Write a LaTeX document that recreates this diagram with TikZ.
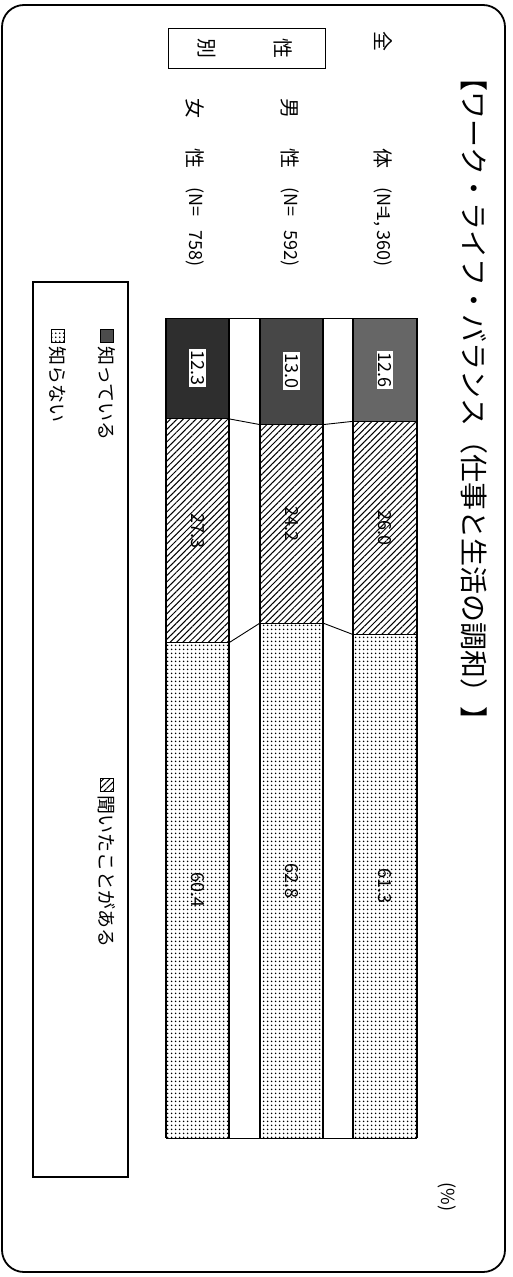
\documentclass[tikz,border=0pt]{standalone}
\usepackage{fontspec}
\newfontfamily\jp{Noto Sans CJK JP}
\usetikzlibrary{patterns.meta}
\tikzset{
  lbl/.style={font=\jp\fontsize{20}{20}\selectfont, rotate=-90, inner sep=0pt},
  nlbl/.style={font=\jp\fontsize{18}{18}\selectfont, rotate=-90, inner sep=0pt},
  leglbl/.style={font=\jp\fontsize{19}{19}\selectfont, rotate=-90, inner sep=0pt, anchor=west},
  val/.style={font=\jp\fontsize{18}{18}\selectfont, rotate=-90, inner sep=1.5pt},
  barside/.style={line width=2pt},
  segline/.style={line width=0.9pt},
  conn/.style={line width=0.9pt},
  hatchseg/.style={pattern={Lines[angle=45,distance=4.5pt,line width=1pt]}},
  dotseg/.style={pattern={Dots[distance=4pt,radius=1pt]}},
}
% name, xl, xr, p1, p2(cum), v1, v2, v3, darkness
\newcommand\drawbar[9]{%
  \pgfmathsetmacro\ya{318+8.2*#4}%
  \pgfmathsetmacro\yb{318+8.2*#5}%
  \pgfmathsetmacro\xm{(#2+#3)/2}%
  \pgfmathsetmacro\ma{(318+\ya)/2}%
  \pgfmathsetmacro\mb{(\ya+\yb)/2}%
  \pgfmathsetmacro\mc{(\yb+1138)/2}%
  \coordinate (#1-l0) at (#2,318); \coordinate (#1-r0) at (#3,318);
  \coordinate (#1-l1) at (#2,\ya); \coordinate (#1-r1) at (#3,\ya);
  \coordinate (#1-l2) at (#2,\yb); \coordinate (#1-r2) at (#3,\yb);
  \coordinate (#1-l3) at (#2,1138); \coordinate (#1-r3) at (#3,1138);
  \path[fill=black!#9] (#1-l0) rectangle (#1-r1);
  \path[hatchseg] (#1-l1) rectangle (#1-r2);
  \path[dotseg] (#1-l2) rectangle (#1-r3);
  \draw[segline] (#1-l0) -- (#1-r0) (#1-l1) -- (#1-r1) (#1-l2) -- (#1-r2) (#1-l3) -- (#1-r3);
  \draw[barside] (#1-l0) -- (#1-l3) (#1-r0) -- (#1-r3);
  \node[val, fill=white] (#1-v1) at (\xm,\ma) {#6};
  \node[val] (#1-v2) at (\xm,\mb) {#7};
  \node[val] (#1-v3) at (\xm,\mc) {#8};
}
\begin{document}
\begin{tikzpicture}[x=1pt,y=-1pt]
\useasboundingbox (0,0) rectangle (512,1277);
% frame
\draw[line width=1.8pt, rounded corners=22pt] (2,5) rectangle (505,1272);
% title
\node[font=\jp\fontsize{28}{28}\selectfont, rotate=-90, inner sep=0pt, anchor=west] (title) at (474,63) {【ワーク・ライフ・バランス（仕事と生活の調和）】};
% header box
\node[draw, line width=1pt, minimum width=157pt, minimum height=40pt, inner sep=0pt] (hdr) at (246.5,48) {};
\node[lbl] (hdr1) at (283,48) {性};
\node[lbl] (hdr2) at (207,48) {別};
% categories
\node[lbl] (c1a) at (383,41) {全};
\node[lbl] (c1b) at (383,158) {体};
\node[nlbl, anchor=west] (c1n) at (383,187) {(N=};
\node[nlbl, anchor=east] (c1m) at (383,267) {1, 360)};
\node[lbl] (c2a) at (290,108) {男};
\node[lbl] (c2b) at (290,158) {性};
\node[nlbl, anchor=west] (c2n) at (290,187) {(N=};
\node[nlbl, anchor=east] (c2m) at (290,267) {592)};
\node[lbl] (c3a) at (195,108) {女};
\node[lbl] (c3b) at (195,158) {性};
\node[nlbl, anchor=west] (c3n) at (195,187) {(N=};
\node[nlbl, anchor=east] (c3m) at (195,267) {758)};
% bars
\drawbar{all}{353}{417}{12.6}{38.6}{12.6}{26.0}{61.3}{60}
\drawbar{male}{260}{323}{13.0}{37.2}{13.0}{24.2}{62.8}{72}
\drawbar{female}{166}{229}{12.3}{39.6}{12.3}{27.3}{60.4}{82}
% connectors
\draw[conn] (female-l0) -- (all-r0);
\draw[conn] (female-l3) -- (all-r3);
\draw[conn] (all-l1) -- (male-r1);
\draw[conn] (male-l1) -- (female-r1);
\draw[conn] (all-l2) -- (male-r2);
\draw[conn] (male-l2) -- (female-r2);
% percent
\node[nlbl] (pct) at (447,1197) {(\%)};
% legend
\node[draw, line width=1.2pt, minimum width=95pt, minimum height=895pt, inner sep=0pt] (leg) at (80.5,729.5) {};
\node[draw, fill=black!70, minimum size=13pt, inner sep=0pt] (s1) at (107,336) {};
\node[leglbl] (t1) at (107,346) {知っている};
\node[draw, dotseg, minimum size=13pt, inner sep=0pt] (s2) at (58,336) {};
\node[leglbl] (t2) at (58,346) {知らない};
\node[draw, hatchseg, minimum size=13pt, inner sep=0pt] (s3) at (107,785) {};
\node[leglbl] (t3) at (107,795) {聞いたことがある};
\end{tikzpicture}
\end{document}
